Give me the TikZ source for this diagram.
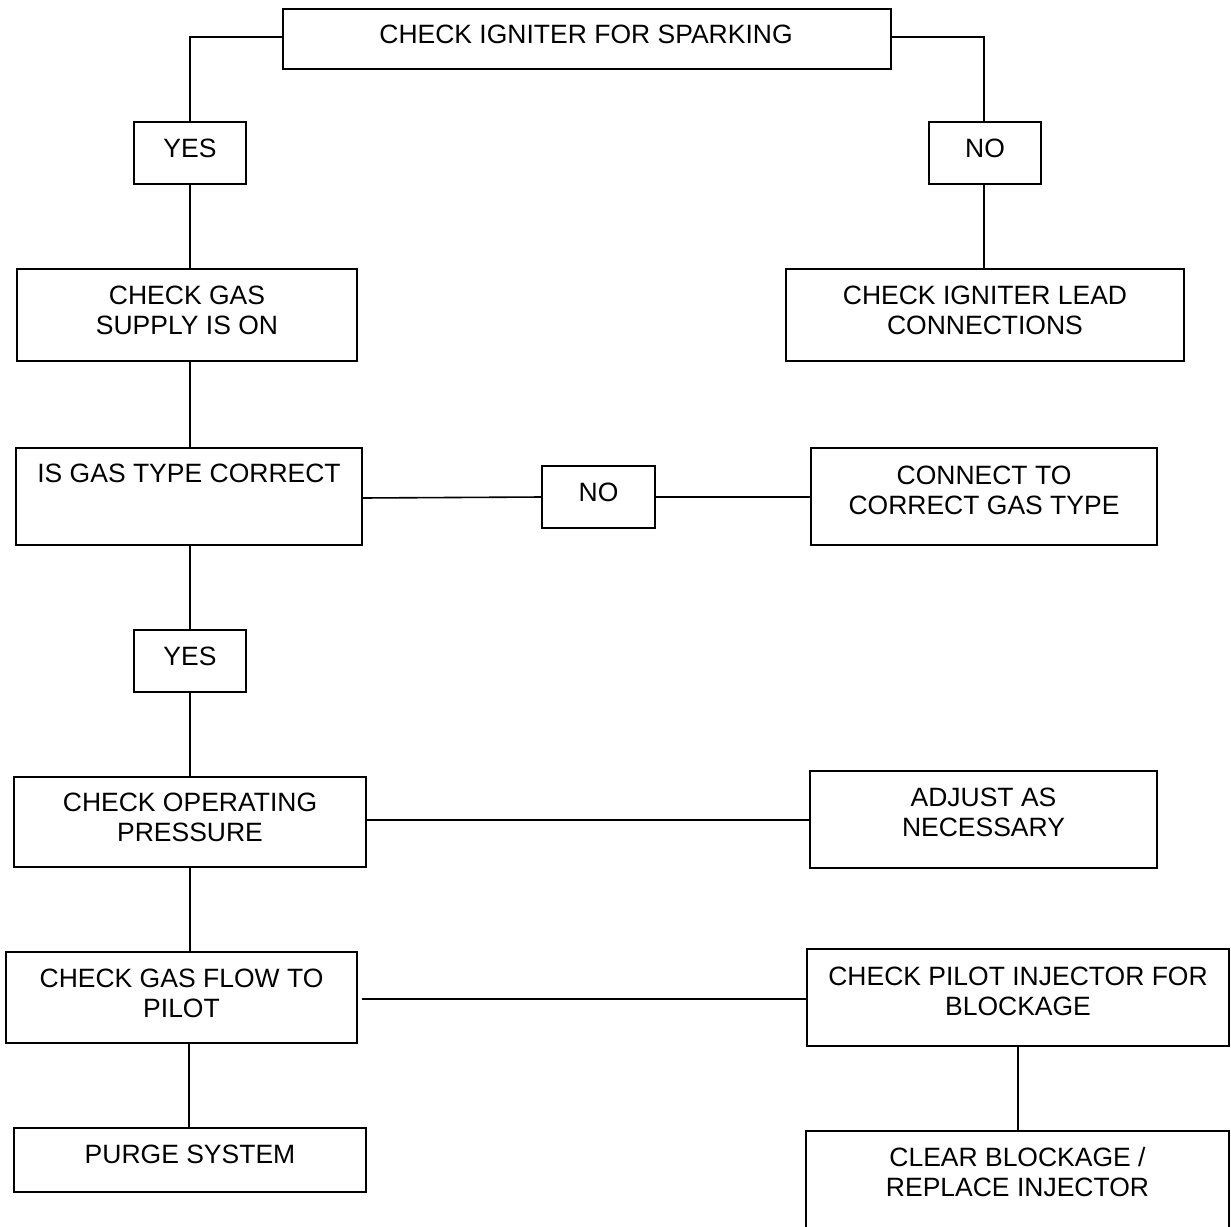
\documentclass[tikz,border=0pt]{standalone}
\usepackage{fontspec}
\setmainfont{Liberation Sans}
\newcommand{\bx}[5]{\node[boxnode, minimum width={#4-#2}, minimum height={#5-#3}] (#1) at ({(#2+#4)/2},{(#3+#5)/2}) {};}
\begin{document}
\begin{tikzpicture}[x=1pt,y=-1pt,
  boxnode/.style={draw=black, line width=1.6pt, inner sep=0pt, outer sep=0pt, fill=none},
  txt/.style={inner sep=0pt, outer sep=0pt, align=center, font=\fontsize{26.5}{30}\selectfont, text=black},
  conn/.style={draw=black, line width=1.6pt}]
\useasboundingbox[fill=white] (0,0) rectangle (1231,1226);
% boxes
\bx{top}{283}{9}{891}{69}
\bx{yesA}{134}{122}{246}{184}
\bx{noA}{929}{122}{1041}{184}
\bx{gas}{17}{269}{357}{361}
\bx{lead}{786}{269}{1184}{361}
\bx{type}{16}{448}{362}{545}
\bx{noB}{542}{466}{655}{528}
\bx{conn}{811}{448}{1157}{545}
\bx{yesB}{134}{630}{246}{692}
\bx{press}{14}{777}{366}{867}
\bx{adjust}{810}{771}{1157}{868}
\bx{flow}{6}{952}{357}{1043}
\bx{inj}{807}{949}{1229}{1046}
\bx{purge}{14}{1128}{366}{1192}
\bx{clear}{806}{1131}{1229}{1240}
% texts
\node[txt] (ttop) at (586,34.5) {CHECK IGNITER FOR SPARKING};
\node[txt] (tyesA) at (190,148) {YES};
\node[txt] (tnoA) at (985,148.5) {NO};
\node[txt] (tgas) at (187,310.5) {CHECK GAS\\SUPPLY IS ON};
\node[txt] (tlead) at (985,310) {CHECK IGNITER LEAD\\CONNECTIONS};
\node[txt] (ttype) at (189,473.5) {IS GAS TYPE CORRECT};
\node[txt] (tnoB) at (598.5,492.5) {NO};
\node[txt] (tconn) at (984,490) {CONNECT TO\\CORRECT GAS TYPE};
\node[txt] (tyesB) at (190,656) {YES};
\node[txt] (tpress) at (190,817.5) {CHECK OPERATING\\PRESSURE};
\node[txt] (tadjust) at (983.5,812.5) {ADJUST AS\\NECESSARY};
\node[txt] (tflow) at (181.5,993.5) {CHECK GAS FLOW TO\\PILOT};
\node[txt] (tinj) at (1018,991) {CHECK PILOT INJECTOR FOR\\BLOCKAGE};
\node[txt] (tpurge) at (190,1154.5) {PURGE SYSTEM};
\node[txt] (tclear) at (1017.5,1172.5) {CLEAR BLOCKAGE /\\REPLACE INJECTOR};
% connectors
\draw[conn] ([yshift=2pt]top.west) -| (yesA.north);
\draw[conn] ([yshift=2pt]top.east) -| ([xshift=-1pt]noA.north);
\draw[conn] (yesA.south) -- (yesA.south |- gas.north);
\draw[conn] ([xshift=-1pt]noA.south) -- ([xshift=-1pt]noA.south |- lead.north);
\draw[conn] (yesA.south |- gas.south) -- (yesA.south |- type.north);
\draw[conn] ([yshift=-1.5pt]type.east) -- ([yshift=0pt]noB.west);
\draw[conn] (noB.east) -- (noB.east -| conn.west);
\draw[conn] (yesB.north |- type.south) -- (yesB.north);
\draw[conn] (yesB.south) -- (yesB.south |- press.north);
\draw[conn] ([yshift=-0.5pt]adjust.west) -- ([yshift=-0.5pt]adjust.west -| press.east);
\draw[conn] (yesB.south |- press.south) -- (yesB.south |- flow.north);
\draw[conn] ([xshift=5pt,yshift=-1.5pt]flow.east) -- ([yshift=-1.5pt]flow.east -| inj.west);
\draw[conn] ([xshift=-1pt]yesB.south |- flow.south) -- ([xshift=-1pt]yesB.south |- purge.north);
\draw[conn] (inj.south) -- (inj.south |- clear.north);
\end{tikzpicture}
\end{document}
